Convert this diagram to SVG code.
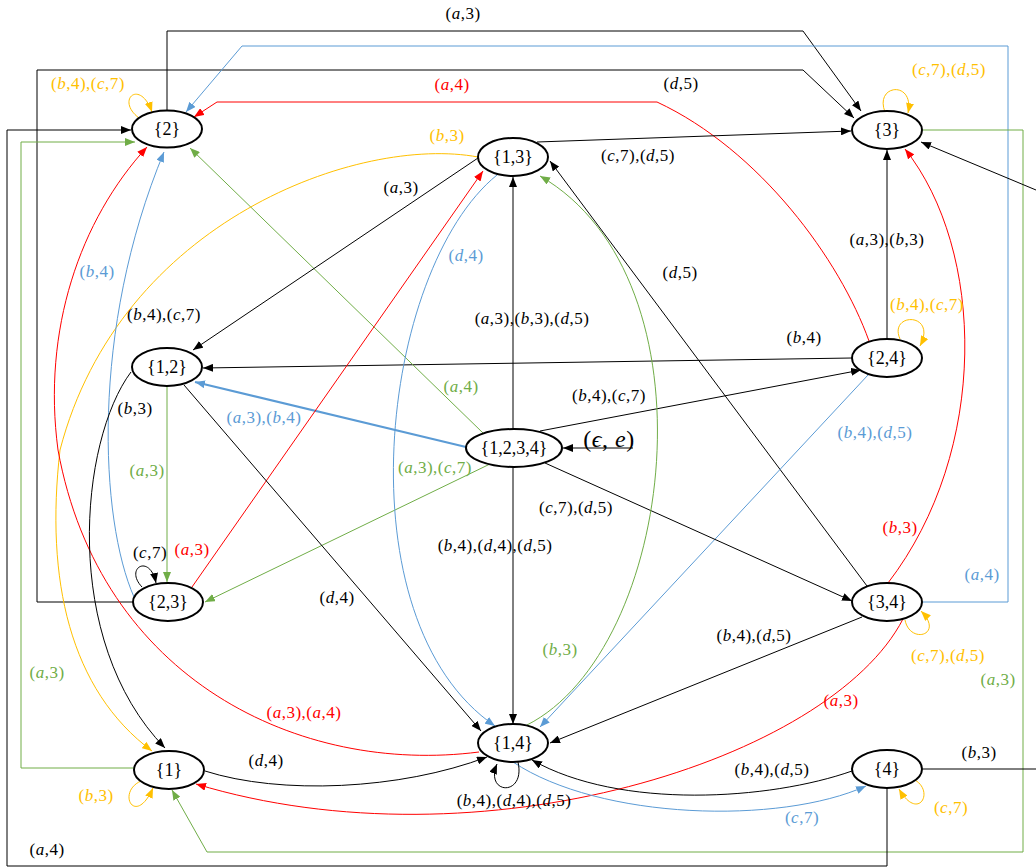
<svg xmlns="http://www.w3.org/2000/svg" width="1036" height="868" viewBox="0 0 1036 868">
<style>
.e{fill:none;stroke-width:1}
.k{stroke:#000}
.r{stroke:#FF0000}
.b{stroke:#5B9BD5}
.g{stroke:#70AD47}
.y{stroke:#FFC000}
.nd ellipse{fill:#fff;stroke:#000;stroke-width:2}
.nd text{font-family:"Liberation Serif","Times New Roman",serif;font-size:18px;text-anchor:middle;fill:#000}
.t{font-family:"Liberation Serif","Times New Roman",serif;font-size:17px;letter-spacing:0.5px;text-anchor:middle}
.tk{fill:#000}.tr{fill:#FF0000}.tb{fill:#5B9BD5}.tg{fill:#70AD47}.ty{fill:#FFC000}
.i{font-style:italic}
</style>
<defs>
<marker id="ak" markerUnits="userSpaceOnUse" markerWidth="10" markerHeight="8" refX="10" refY="4" orient="auto"><path d="M0,0 L10,4 L0,8 z" fill="#000"/></marker>
<marker id="ar" markerUnits="userSpaceOnUse" markerWidth="10" markerHeight="8" refX="10" refY="4" orient="auto"><path d="M0,0 L10,4 L0,8 z" fill="#FF0000"/></marker>
<marker id="ab" markerUnits="userSpaceOnUse" markerWidth="10" markerHeight="8" refX="10" refY="4" orient="auto"><path d="M0,0 L10,4 L0,8 z" fill="#5B9BD5"/></marker>
<marker id="ag" markerUnits="userSpaceOnUse" markerWidth="10" markerHeight="8" refX="10" refY="4" orient="auto"><path d="M0,0 L10,4 L0,8 z" fill="#70AD47"/></marker>
<marker id="ay" markerUnits="userSpaceOnUse" markerWidth="10" markerHeight="8" refX="10" refY="4" orient="auto"><path d="M0,0 L10,4 L0,8 z" fill="#FFC000"/></marker>
</defs>
<rect width="1036" height="868" fill="#fff"/>
<g id="connectors">
<path class="e k" d="M167,110 V31 H803 L861,111" marker-end="url(#ak)"/>
<path class="e k" d="M133,602 H37 V70 H803 L854,118" marker-end="url(#ak)"/>
<path class="e b" d="M923,602 H1008 V46 H242 L186,112" marker-end="url(#ab)"/>
<path class="e r" d="M869,341 C840,260 760,150 657,102 H217 L194,117" marker-end="url(#ar)"/>
<path class="e k" d="M867,586 L550,161" marker-end="url(#ak)"/>
<path class="e k" d="M537,142 L851,131" marker-end="url(#ak)"/>
<path class="e y" d="M885,112 C874,84 915,80 908,113" marker-end="url(#ay)"/>
<path class="e g" d="M923,130 H1023 V852 H207 L172,790" marker-end="url(#ag)"/>
<path class="e k" d="M923,769 H1036"/>
<path class="e k" d="M1036,190 L921,142" marker-end="url(#ak)"/>
<path class="e k" d="M887,339 V150" marker-end="url(#ak)"/>
<path class="e r" d="M888,583 C990,450 985,250 905,149" marker-end="url(#ar)"/>
<path class="e y" d="M900,339 C888,312 938,312 920,346" marker-end="url(#ay)"/>
<path class="e k" d="M852,358 L203,368" marker-end="url(#ak)"/>
<path class="e k" d="M540,431 L861,370" marker-end="url(#ak)"/>
<path class="e b" d="M868,375 L540,727" marker-end="url(#ab)"/>
<path class="e k" d="M633,448 H563" marker-end="url(#ak)"/>
<path class="e k" d="M513,429 V177" marker-end="url(#ak)"/>
<path class="e k" d="M513,467 V724" marker-end="url(#ak)"/>
<path class="e k" d="M545,463 L852,601" marker-end="url(#ak)"/>
<path class="e b" style="stroke-width:2" d="M466,447 L195,382" marker-end="url(#ab)"/>
<path class="e g" d="M483,433 L190,148" marker-end="url(#ag)"/>
<path class="e g" d="M490,464 L205,602" marker-end="url(#ag)"/>
<path class="e g" d="M527,725 C675,650 720,280 540,176" marker-end="url(#ag)"/>
<path class="e b" d="M497,175 C380,270 340,620 495,726" marker-end="url(#ab)"/>
<path class="e r" d="M192,587 L483,171" marker-end="url(#ar)"/>
<path class="e k" d="M478,158 L193,350" marker-end="url(#ak)"/>
<path class="e y" d="M478,157 C360,135 120,220 60,450 C45,580 70,690 152,751" marker-end="url(#ay)"/>
<path class="e r" d="M479,752 C300,775 100,680 58,450 C42,330 80,220 147,147" marker-end="url(#ar)"/>
<path class="e b" d="M134,597 C100,520 90,330 164,152" marker-end="url(#ab)"/>
<path class="e k" d="M131,372 C80,440 60,640 165,748" marker-end="url(#ak)"/>
<path class="e g" d="M167,387 V582" marker-end="url(#ag)"/>
<path class="e k" d="M184,385 L481,731" marker-end="url(#ak)"/>
<path class="e k" d="M142,587 C124,568 150,553 156,583" marker-end="url(#ak)"/>
<path class="e k" d="M887,788 V866 H7 V130 H131" marker-end="url(#ak)"/>
<path class="e g" d="M134,768 H21 V142 H135" marker-end="url(#ag)"/>
<path class="e y" d="M141,781 C116,792 135,828 153,788" marker-end="url(#ay)"/>
<path class="e k" d="M205,771 C280,795 400,790 487,757" marker-end="url(#ak)"/>
<path class="e r" d="M903,619 C830,760 480,870 196,784" marker-end="url(#ar)"/>
<path class="e k" d="M862,617 L550,743" marker-end="url(#ak)"/>
<path class="e k" d="M852,771 C770,800 620,810 532,760" marker-end="url(#ak)"/>
<path class="e b" d="M513,762 C600,820 780,825 866,786" marker-end="url(#ab)"/>
<path class="e k" d="M518,762 C526,797 484,795 497,764" marker-end="url(#ak)"/>
<path class="e y" d="M915,780 C935,792 918,822 899,789" marker-end="url(#ay)"/>
<path class="e y" d="M905,620 C910,645 945,635 921,611" marker-end="url(#ay)"/>
<path class="e y" d="M139,118 C115,100 140,78 152,112" marker-end="url(#ay)"/>
</g>
<g id="labels">
<text class="t tk" x="463" y="19">(<tspan class="i">a</tspan>,3)</text>
<text class="t tk" x="681" y="89">(<tspan class="i">d</tspan>,5)</text>
<text class="t tb" x="982" y="580">(<tspan class="i">a</tspan>,4)</text>
<text class="t tr" x="452" y="90">(<tspan class="i">a</tspan>,4)</text>
<text class="t tk" x="680" y="278">(<tspan class="i">d</tspan>,5)</text>
<text class="t tk" x="638" y="161">(<tspan class="i">c</tspan>,7),(<tspan class="i">d</tspan>,5)</text>
<text class="t ty" x="949" y="75">(<tspan class="i">c</tspan>,7),(<tspan class="i">d</tspan>,5)</text>
<text class="t tg" x="998" y="685">(<tspan class="i">a</tspan>,3)</text>
<text class="t tk" x="979" y="758">(<tspan class="i">b</tspan>,3)</text>
<text class="t tk" x="887" y="245">(<tspan class="i">a</tspan>,3),(<tspan class="i">b</tspan>,3)</text>
<text class="t tr" x="900" y="533">(<tspan class="i">b</tspan>,3)</text>
<text class="t ty" x="927" y="310">(<tspan class="i">b</tspan>,4),(<tspan class="i">c</tspan>,7)</text>
<text class="t tk" x="804" y="343">(<tspan class="i">b</tspan>,4)</text>
<text class="t tk" x="609" y="401">(<tspan class="i">b</tspan>,4),(<tspan class="i">c</tspan>,7)</text>
<text class="t tb" x="875" y="438">(<tspan class="i">b</tspan>,4),(<tspan class="i">d</tspan>,5)</text>
<text class="t tk" x="609" y="447" style="font-size:24px">(<tspan class="i">ϵ</tspan>, <tspan class="i">e</tspan>)</text>
<text class="t tk" x="532" y="324">(<tspan class="i">a</tspan>,3),(<tspan class="i">b</tspan>,3),(<tspan class="i">d</tspan>,5)</text>
<text class="t tk" x="495" y="551">(<tspan class="i">b</tspan>,4),(<tspan class="i">d</tspan>,4),(<tspan class="i">d</tspan>,5)</text>
<text class="t tk" x="576" y="513">(<tspan class="i">c</tspan>,7),(<tspan class="i">d</tspan>,5)</text>
<text class="t tb" x="264" y="423">(<tspan class="i">a</tspan>,3),(<tspan class="i">b</tspan>,4)</text>
<text class="t tg" x="461" y="392">(<tspan class="i">a</tspan>,4)</text>
<text class="t tg" x="435" y="473">(<tspan class="i">a</tspan>,3),(<tspan class="i">c</tspan>,7)</text>
<text class="t tg" x="560" y="655">(<tspan class="i">b</tspan>,3)</text>
<text class="t tb" x="466" y="261">(<tspan class="i">d</tspan>,4)</text>
<text class="t tr" x="192" y="555">(<tspan class="i">a</tspan>,3)</text>
<text class="t tk" x="401" y="193">(<tspan class="i">a</tspan>,3)</text>
<text class="t ty" x="447" y="141">(<tspan class="i">b</tspan>,3)</text>
<text class="t tr" x="304" y="718">(<tspan class="i">a</tspan>,3),(<tspan class="i">a</tspan>,4)</text>
<text class="t tb" x="97" y="277">(<tspan class="i">b</tspan>,4)</text>
<text class="t tk" x="135" y="414">(<tspan class="i">b</tspan>,3)</text>
<text class="t tg" x="147" y="476">(<tspan class="i">a</tspan>,3)</text>
<text class="t tk" x="337" y="603">(<tspan class="i">d</tspan>,4)</text>
<text class="t tk" x="150" y="558">(<tspan class="i">c</tspan>,7)</text>
<text class="t tk" x="47" y="855">(<tspan class="i">a</tspan>,4)</text>
<text class="t tg" x="47" y="678">(<tspan class="i">a</tspan>,3)</text>
<text class="t ty" x="96" y="801">(<tspan class="i">b</tspan>,3)</text>
<text class="t tk" x="266" y="766">(<tspan class="i">d</tspan>,4)</text>
<text class="t tr" x="841" y="706">(<tspan class="i">a</tspan>,3)</text>
<text class="t tk" x="754" y="641">(<tspan class="i">b</tspan>,4),(<tspan class="i">d</tspan>,5)</text>
<text class="t tk" x="772" y="775">(<tspan class="i">b</tspan>,4),(<tspan class="i">d</tspan>,5)</text>
<text class="t tb" x="802" y="823">(<tspan class="i">c</tspan>,7)</text>
<text class="t tk" x="514" y="806">(<tspan class="i">b</tspan>,4),(<tspan class="i">d</tspan>,4),(<tspan class="i">d</tspan>,5)</text>
<text class="t ty" x="951" y="813">(<tspan class="i">c</tspan>,7)</text>
<text class="t ty" x="948" y="661">(<tspan class="i">c</tspan>,7),(<tspan class="i">d</tspan>,5)</text>
<text class="t ty" x="88" y="89">(<tspan class="i">b</tspan>,4),(<tspan class="i">c</tspan>,7)</text>
<text class="t tk" x="164" y="320">(<tspan class="i">b</tspan>,4),(<tspan class="i">c</tspan>,7)</text>
</g>
<g id="n2" class="nd"><ellipse cx="167" cy="129" rx="35" ry="18.5"/><text x="167" y="135">{2}</text></g>
<g id="n3" class="nd"><ellipse cx="887" cy="130" rx="35" ry="19"/><text x="887" y="136">{3}</text></g>
<g id="n13" class="nd"><ellipse cx="513" cy="157" rx="35" ry="19"/><text x="513" y="163">{1,3}</text></g>
<g id="n12" class="nd"><ellipse cx="167" cy="367" rx="35" ry="19"/><text x="167" y="373">{1,2}</text></g>
<g id="n24" class="nd"><ellipse cx="887" cy="358" rx="35" ry="19"/><text x="887" y="364">{2,4}</text></g>
<g id="n1234" class="nd"><ellipse cx="514" cy="448" rx="48" ry="19"/><text x="514" y="454">{1,2,3,4}</text></g>
<g id="n23" class="nd"><ellipse cx="168" cy="602" rx="35" ry="19"/><text x="168" y="608">{2,3}</text></g>
<g id="n34" class="nd"><ellipse cx="887" cy="602" rx="35" ry="19"/><text x="887" y="608">{3,4}</text></g>
<g id="n1" class="nd"><ellipse cx="169" cy="770" rx="35" ry="19"/><text x="169" y="776">{1}</text></g>
<g id="n14" class="nd"><ellipse cx="513" cy="743" rx="35" ry="19"/><text x="513" y="749">{1,4}</text></g>
<g id="n4" class="nd"><ellipse cx="887" cy="769" rx="35" ry="19"/><text x="887" y="775">{4}</text></g>
</svg>
